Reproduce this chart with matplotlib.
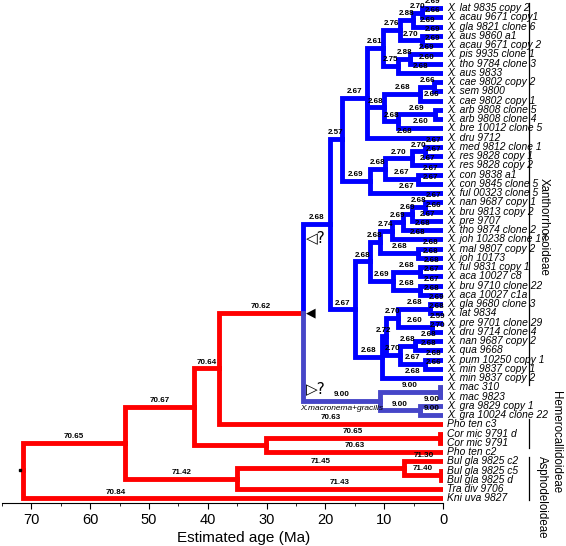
import numpy as np
import matplotlib.pyplot as plt

plt.rcParams['font.family'] = ['Liberation Sans', 'DejaVu Sans']

# tips, top to bottom: name, parent node, branch label
tip_names = [
    'X. lat 9835 copy 2', 'X. acau 9671 copy1', 'X. gla 9821 clone 6', 'X. aus 9860 a1',
    'X. acau 9671 copy 2', 'X. pis 9935 clone 1', 'X. tho 9784 clone 3', 'X. aus 9833',
    'X. cae 9802 copy 2', 'X. sem 9800', 'X. cae 9802 copy 1', 'X. arb 9808 clone 5',
    'X. arb 9808 clone 4', 'X. bre 10012 clone 5', 'X. dru 9712', 'X. med 9812 clone 1',
    'X. res 9828 copy 1', 'X. res 9828 copy 2', 'X. con 9838 a1', 'X. con 9845 clone 5',
    'X. ful 00323 clone 5', 'X. nan 9687 copy 1', 'X. bru 9813 copy 2', 'X. pre 9707',
    'X. tho 9874 clone 2', 'X. joh 10238 clone 17', 'X. mal 9807 copy 2', 'X. joh 10173',
    'X. ful 9831 copy 1', 'X. aca 10027 c8', 'X. bru 9710 clone 22', 'X. aca 10027 c1a',
    'X. gla 9680 clone 3', 'X. lat 9834', 'X. pre 9701 clone 29', 'X. dru 9714 clone 4',
    'X. nan 9687 copy 2', 'X. qua 9668', 'X. pum 10250 copy 1', 'X. min 9837 copy 1',
    'X. min 9837 copy 2', 'X. mac 310', 'X. mac 9823', 'X. gra 9829 copy 1',
    'X. gra 10024 clone 22', 'Pho ten c3', 'Cor mic 9791 d', 'Cor mic 9791',
    'Pho ten c2', 'Bul gla 9825 c2', 'Bul gla 9825 c5', 'Bul gla 9825 d',
    'Tra div 9706', 'Kni uva 9827',
]
tip_parent = [
    'N3', 'N3', 'N1', 'N2', 'N2', 'Y1', 'Y1', 'Y',
    'C2', 'C2', 'C1', 'A1', 'A1', 'A2', 'Q', 'R2a',
    'R2a', 'R2', 'R3', 'R3', 'R', 'B1g', 'B1g', 'B1f',
    'B1e', 'B1c', 'B1d', 'B1d', 'B1h', 'B1h', 'B1i', 'B1i',
    'B2d', 'B2d', 'B2e', 'B2e', 'B2f', 'B2f', 'B2g', 'B2g',
    'B2', 'MAC', 'MAC', 'GRA', 'GRA', 'D', 'CM', 'CM',
    'COR', 'BUL', 'BB2', 'BB2', 'C', 'root',
]
tip_value = [
    '2.69', '2.66', '2.69', '2.69', '2.69', '2.69', '2.60', '2.68',
    None, None, '2.66', None, None, '2.60', '2.68', '2.67',
    '2.67', '2.67', '2.67', '2.67', '2.67', '2.67', '2.66', '2.67',
    '2.68', '2.68', '2.68', '2.68', '2.68', '2.67', '2.67', '2.68',
    '2.69', '2.68', '2.59', '2.70', '2.68', '2.68', '2.68', '2.66',
    '2.68', None, None, '9.00', '9.00', '70.63', None, None,
    '70.63', '71.30', None, None, '71.43', '70.84',
]

# internal nodes: name, parent, age (Ma), branch label
node_names = ['root', 'A', 'B', 'C', 'D', 'COR', 'XAN', 'CM', 'BUL', 'BB2',
              'XX', 'M', 'MAC', 'GRA', 'P', 'BB', 'Q', 'R', 'S', 'T',
              'V', 'Y', 'N1', 'N3', 'N2', 'Y1', 'C1', 'C2', 'A2', 'A1',
              'R1', 'R2', 'R2a', 'R3', 'B1', 'B1a', 'B1c', 'B1e', 'B1f', 'B1g',
              'B1d', 'B1b', 'B1h', 'B1i', 'B2', 'B2a', 'B2b', 'B2d', 'B2e', 'B2c',
              'B2f', 'B2g']
node_parent = [None, 'root', 'A', 'A', 'B', 'B', 'D', 'COR', 'C', 'BUL',
               'XAN', 'XAN', 'M', 'M', 'XX', 'XX', 'P', 'P', 'Q', 'Q',
               'S', 'S', 'V', 'N1', 'V', 'Y', 'T', 'C1', 'T', 'A2',
               'R', 'R1', 'R2', 'R1', 'BB', 'B1', 'B1a', 'B1c', 'B1e', 'B1f',
               'B1a', 'B1', 'B1b', 'B1b', 'BB', 'B2', 'B2a', 'B2b', 'B2b', 'B2a',
               'B2c', 'B2c']
node_age = [71.5, 54.0, 42.3, 35.0, 38.1, 30.1, 23.8, 0.5, 6.6, 0.3,
            19.2, 10.7, 0.5, 3.9, 17.2, 15.0, 12.9, 12.4, 10.2, 10.0,
            7.3, 7.6, 5.1, 3.6, 3.6, 5.6, 3.9, 1.5, 7.6, 1.4,
            9.9, 5.3, 3.1, 4.2, 12.5, 10.7, 8.7, 6.8, 5.3, 3.1,
            4.2, 8.5, 3.9, 3.9, 10.4, 9.7, 7.6, 2.2, 1.9, 7.3,
            4.8, 3.1]
node_value = [None, '70.65', '70.67', '71.42', '70.64', None, '70.62', '70.65', '71.45', '71.40',
              '2.68', '9.00', '9.00', '9.00', '2.57', '2.67', '2.67', '2.69', '2.61', '2.68',
              '2.76', '2.75', '2.88', '2.70', '2.70', '2.88', '2.68', '2.66', '2.68', '2.69',
              '2.68', '2.70', '2.70', '2.67', '2.68', '2.68', '2.74', '2.69', '2.69', '2.68',
              '2.68', '2.69', '2.68', '2.68', '2.68', '2.72', '2.70', '2.68', '2.60', '2.70',
              '2.68', '2.67']

# branch labels that do not sit at the middle of their branch (age of label centre)
label_at = {'Kni uva 9827': 55.7}

red, blue, slate = '#ff0000', '#0000ff', '#4646c8'

parent, age, value = {}, {}, {}
for n, p, a, v in zip(node_names, node_parent, node_age, node_value):
    parent[n], age[n], value[n] = p, a, v
for n, p, v in zip(tip_names, tip_parent, tip_value):
    parent[n], age[n], value[n] = p, 0.0, v

children = {}
for n, p in parent.items():
    if p is not None:
        children.setdefault(p, []).append(n)

ypos = {n: i for i, n in enumerate(tip_names)}


def get_y(n):
    if n not in ypos:
        ypos[n] = np.mean([get_y(c) for c in children[n]])
    return ypos[n]


get_y('root')


def colour(n):
    while n is not None:
        if n == 'M':
            return slate
        if n == 'XX':
            return blue
        n = parent[n]
    return red


fig = plt.figure(figsize=(5.66, 5.46), dpi=100)
ax = fig.add_axes([2 / 566, 43 / 546, 441 / 566, 503 / 546])

for n, p in parent.items():
    if p is None:
        continue
    c = colour(n)
    ax.plot([age[p], age[p], age[n]], [ypos[p], ypos[n], ypos[n]], color=c, lw=3.5,
            solid_joinstyle='miter', solid_capstyle='projecting', zorder=2 if c == red else 3)
    if value[n]:
        xl = label_at.get(n, (age[p] + age[n]) / 2)
        ax.annotate(value[n], (xl, ypos[n]), xytext=(0, 2),
                    textcoords='offset points', ha='center', va='bottom',
                    fontsize=5.8, fontweight='bold', zorder=5, annotation_clip=False)

for n in tip_names:
    ax.annotate(n, (0, ypos[n]), xytext=(3, 0), textcoords='offset points',
                ha='left', va='center', fontsize=7.4, style='italic', annotation_clip=False)

# root mark
ax.plot(age['root'] + 0.4, ypos['root'], marker='s', ms=2, color='black', clip_on=False)

# node symbols at the Xanthorrhoea crown
ax.text(age['XAN'] - 0.55, ypos['XX'] + 1.4, '\u25c1?', fontsize=11, ha='left', va='center',
        family=['DejaVu Sans'])
ax.text(age['XAN'] - 0.55, ypos['XAN'], '\u25c0', fontsize=9, ha='left', va='center',
        family=['DejaVu Sans'])
ax.text(age['XAN'] - 0.55, ypos['M'] - 1.3, '\u25b7?', fontsize=11, ha='left', va='center',
        family=['DejaVu Sans'])
ax.text(age['XAN'] + 0.5, ypos['M'] + 0.75, 'X.macronema+gracilis', fontsize=6.0,
        style='italic', ha='left', va='center')

# subfamily bars
clades = [('Xanthorrhoeoideae', -0.55, 40.8, -17.2),
          ('Hemerocallidoideae', 44.4, 47.6, -19.2),
          ('Asphodeloideae', 48.5, 53.2, -16.8)]
label_y = [23.7, 46.9, 52.9]
for (name, y0, y1, xt), yt in zip(clades, label_y):
    ax.plot([-14.6, -14.6], [y0, y1], color='black', lw=0.9, clip_on=False)
    ax.text(xt, yt, name, rotation=270, ha='center', va='center', fontsize=8.3)

ax.set_xlim(75, 0)
ax.set_ylim(53.51, -0.865)
ax.set_xticks(np.arange(0, 71, 10))
ax.set_xticks(np.arange(5, 76, 10), minor=True)
ax.tick_params(axis='x', which='major', length=4, labelsize=10.5, pad=3)
ax.tick_params(axis='x', which='minor', length=2.5)
ax.set_yticks([])
for s in ['left', 'top', 'right']:
    ax.spines[s].set_visible(False)
ax.set_xlabel('Estimated age (Ma)', fontsize=11)
ax.xaxis.set_label_coords((244 - 2) / 441, -0.055)

fig.savefig('out.png', dpi=100)
